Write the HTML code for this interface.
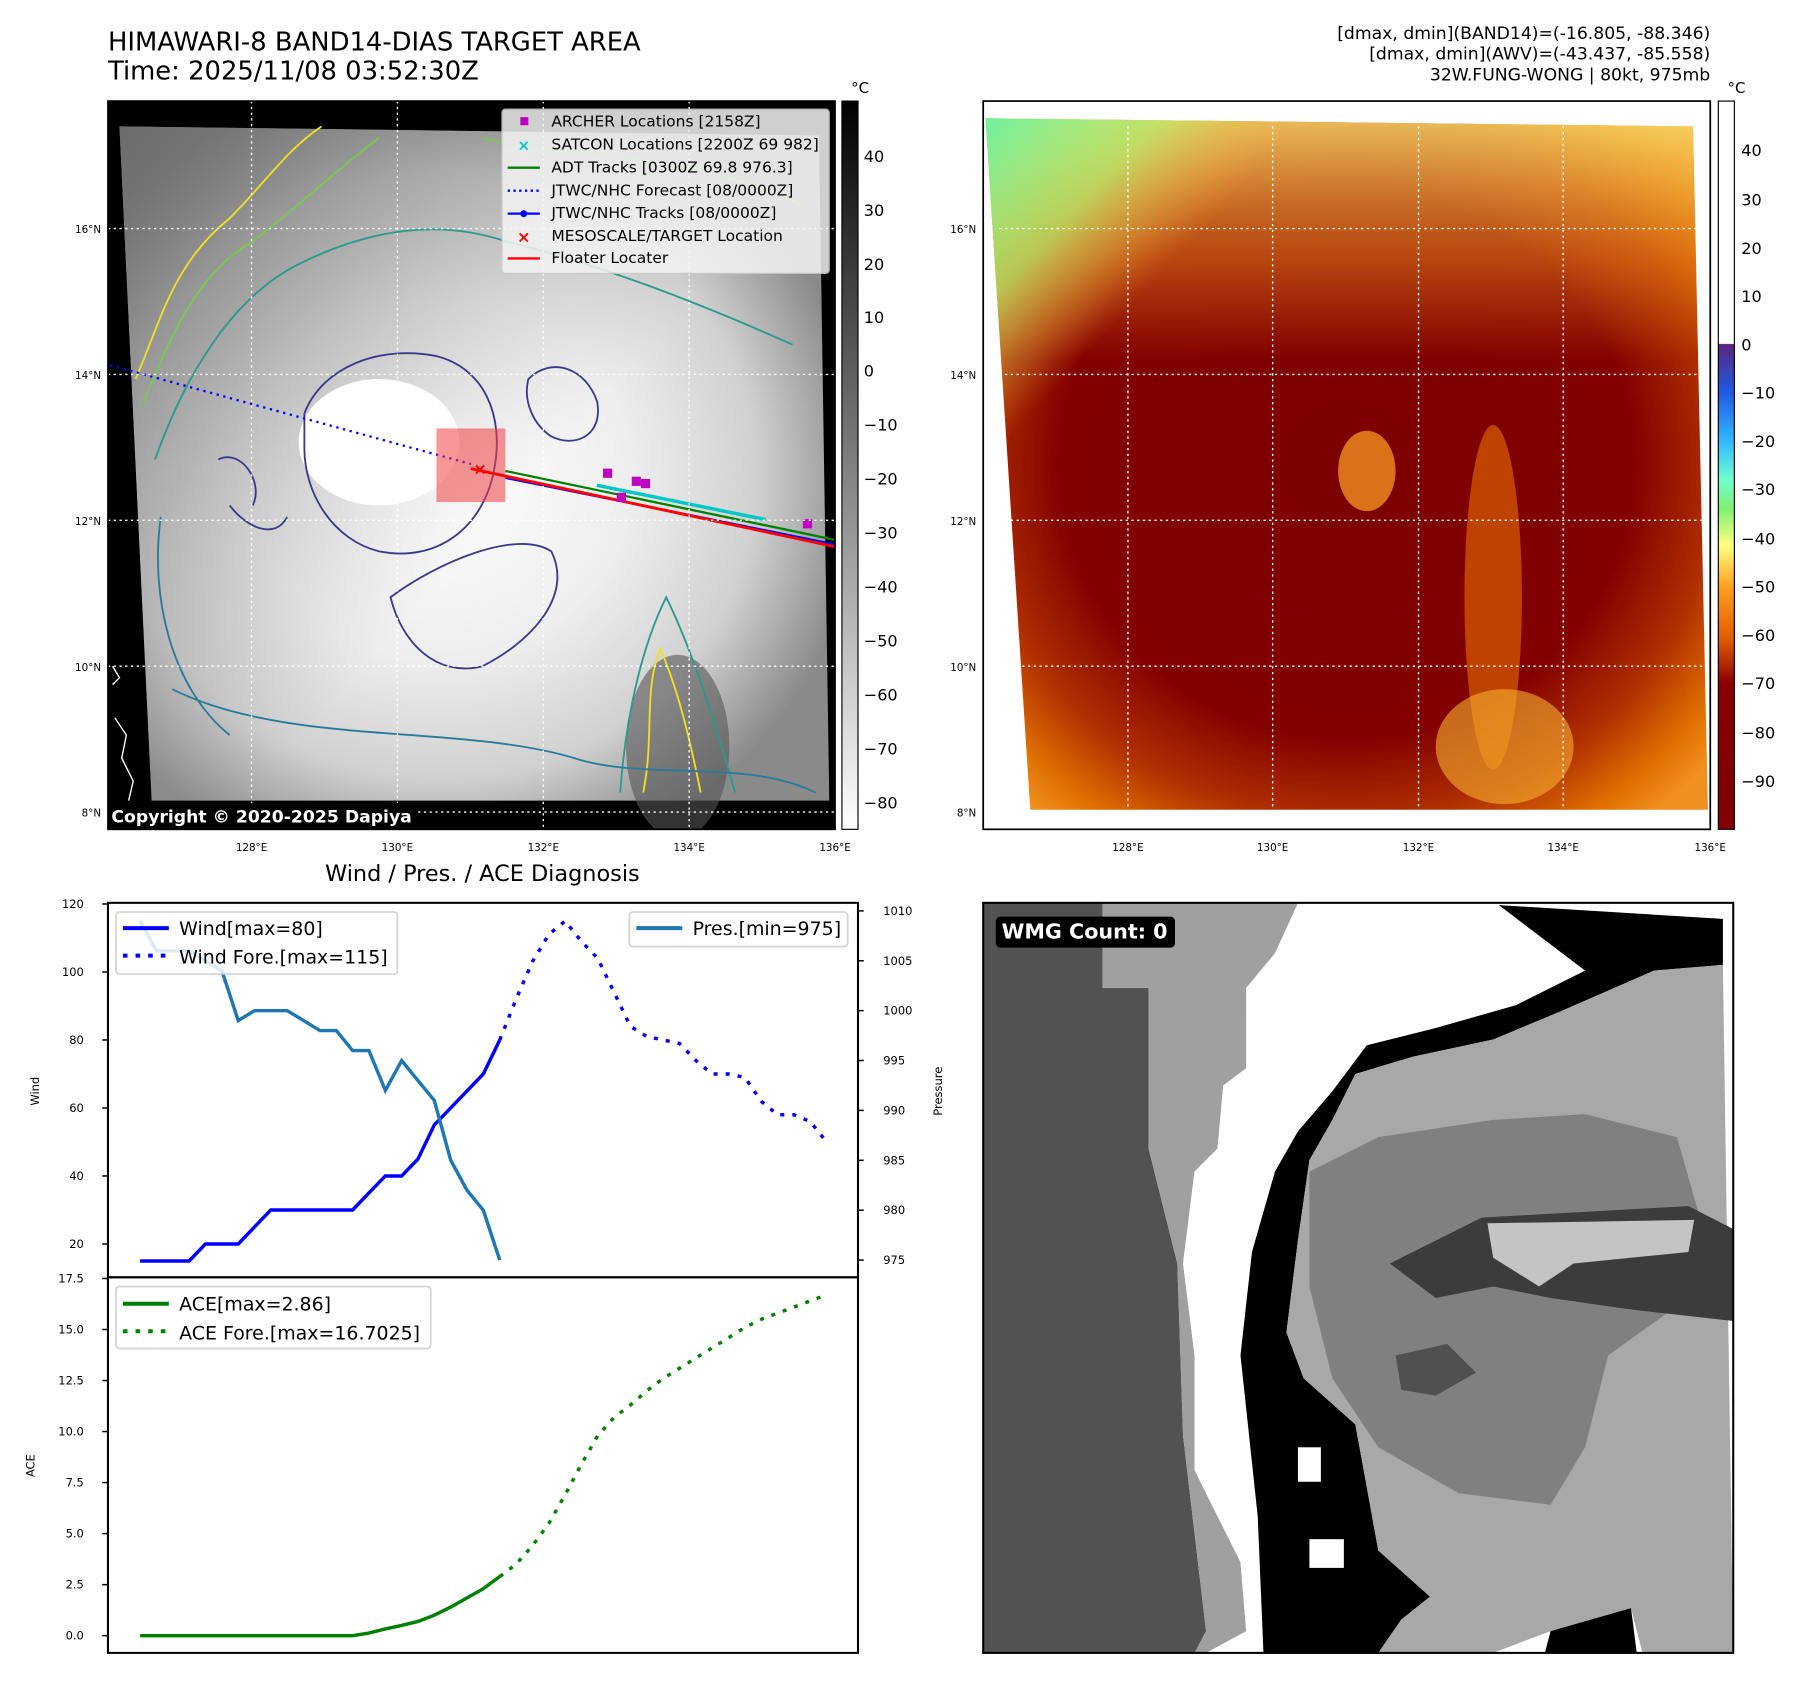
<!DOCTYPE html>
<html><head><meta charset="utf-8"><style>
html,body{margin:0;padding:0;background:#fff;}
svg{display:block;font-family:"DejaVu Sans","Liberation Sans",sans-serif;}
</style></head><body>
<svg id="fig" width="1801" height="1690" viewBox="0 0 1568 1471.3" preserveAspectRatio="none" xmlns="http://www.w3.org/2000/svg">
<defs>
<linearGradient id="cbGray" x1="0" y1="0" x2="0" y2="1"><stop offset="0" stop-color="#000"/><stop offset="1" stop-color="#fff"/></linearGradient>
<linearGradient id="cbColor" x1="0" y1="0" x2="0" y2="1">
<stop offset="0" stop-color="#fff"/><stop offset="0.333" stop-color="#fff"/>
<stop offset="0.334" stop-color="#5a2580"/><stop offset="0.40" stop-color="#1f5ae0"/>
<stop offset="0.467" stop-color="#30b8ff"/><stop offset="0.52" stop-color="#70ffd0"/>
<stop offset="0.56" stop-color="#80f070"/><stop offset="0.61" stop-color="#ffff80"/>
<stop offset="0.667" stop-color="#ffa020"/><stop offset="0.74" stop-color="#e05a00"/>
<stop offset="0.80" stop-color="#8a0000"/><stop offset="1" stop-color="#800000"/>
</linearGradient>
<radialGradient id="irWhite" cx="0.45" cy="0.52" r="0.6">
<stop offset="0" stop-color="#fff"/><stop offset="0.45" stop-color="#eee"/><stop offset="0.75" stop-color="#d0d0d0"/><stop offset="1" stop-color="#8a8a8a"/>
</radialGradient>
<linearGradient id="irTL" x1="0" y1="0" x2="0.6" y2="0.5"><stop offset="0" stop-color="#6a6a6a" stop-opacity="0.95"/><stop offset="1" stop-color="#999" stop-opacity="0"/></linearGradient>
<radialGradient id="awv" cx="0.5" cy="0.5" r="0.66">
<stop offset="0" stop-color="#7c0000"/><stop offset="0.6" stop-color="#820000"/><stop offset="0.78" stop-color="#b03000"/><stop offset="0.92" stop-color="#e07000"/><stop offset="1" stop-color="#f09020"/>
</radialGradient>
<linearGradient id="awvTL" x1="0" y1="0" x2="0.45" y2="0.4"><stop offset="0" stop-color="#70f0a0"/><stop offset="0.3" stop-color="#b0f070" stop-opacity="0.7"/><stop offset="0.55" stop-color="#ffb040" stop-opacity="0"/></linearGradient>
<linearGradient id="awvTop" x1="0" y1="0" x2="0" y2="1"><stop offset="0" stop-color="#f8e070" stop-opacity="0.8"/><stop offset="0.2" stop-color="#f09020" stop-opacity="0.5"/><stop offset="0.35" stop-color="#f09020" stop-opacity="0"/></linearGradient>
<clipPath id="clipA"><rect x="94" y="88" width="633" height="634"/></clipPath>
<clipPath id="clipD"><rect x="856" y="786" width="653" height="653"/></clipPath>
</defs>

<!-- Titles -->
<text x="94" y="44" font-size="22.5">HIMAWARI-8 BAND14-DIAS TARGET AREA</text>
<text x="94" y="69" font-size="22.5">Time: 2025/11/08 03:52:30Z</text>
<g font-size="15" text-anchor="end">
<text x="1489" y="34">[dmax, dmin](BAND14)=(-16.805, -88.346)</text>
<text x="1489" y="52">[dmax, dmin](AWV)=(-43.437, -85.558)</text>
<text x="1489" y="70">32W.FUNG-WONG | 80kt, 975mb</text>
</g>

<!-- Panel A: IR map -->
<g>
<g clip-path="url(#clipA)">
<rect x="94" y="88" width="633" height="634" fill="#000"/>
<polygon points="104,110 713,118 722,697 132,697" fill="url(#irWhite)"/>
<polygon points="104,110 713,118 722,697 132,697" fill="url(#irTL)"/>
<ellipse cx="590" cy="650" rx="45" ry="80" fill="#555" opacity="0.6"/>
<ellipse cx="330" cy="385" rx="70" ry="55" fill="#fff"/>
<g fill="none" stroke-width="1.6">
<path d="M118,330 C140,280 150,230 200,190 C230,160 250,130 280,110" stroke="#f0e020"/>
<path d="M560,690 C570,640 560,600 575,565 C590,600 600,640 610,690" stroke="#f0e020"/>
<path d="M125,350 C150,290 170,240 220,210 C260,180 290,150 330,120 M420,120 C500,140 600,130 700,180" stroke="#7ac850"/>
<path d="M135,400 C160,330 200,260 260,230 C320,200 380,190 440,210 C520,230 600,260 690,300 M540,690 C545,620 560,560 580,520 C600,560 620,620 640,690" stroke="#2a9a8a"/>
<path d="M140,450 C130,520 150,600 200,640 M150,600 C250,650 400,630 500,660 C560,680 650,660 710,690" stroke="#2a7a9a"/>
<path d="M265,360 C280,320 330,300 380,310 C420,320 440,360 430,410 C420,460 380,490 330,480 C290,470 265,430 265,390 Z" stroke="#3a3a8a"/>
<path d="M340,520 C380,490 450,460 480,480 C500,520 460,560 420,580 C380,590 350,560 340,520 Z" stroke="#3a3a8a"/>
<path d="M460,330 C480,310 510,320 520,350 C525,380 500,390 480,380 C465,370 455,350 460,330 Z" stroke="#3a3a8a"/>
<path d="M190,400 C210,390 230,420 220,440 M200,440 C215,460 240,470 250,450" stroke="#3a3a8a"/>
</g>
<line x1="96" y1="318" x2="410" y2="404" stroke="#0000ff" stroke-width="2" stroke-dasharray="2,4"/>
<rect x="380" y="373" width="60" height="64" fill="#f04040" opacity="0.55"/>
<line x1="440" y1="410" x2="727" y2="470" stroke="#008000" stroke-width="2"/>
<line x1="440" y1="416" x2="727" y2="474" stroke="#0000ff" stroke-width="2"/>
<g fill="#00c8c8"><rect x="520" y="421" width="150" height="3" transform="rotate(11.5 520 421)"/></g>
<line x1="410" y1="408" x2="727" y2="476" stroke="#ff0000" stroke-width="2.5"/>
<g fill="#c000c0">
<rect x="525" y="408" width="8" height="8"/><rect x="550" y="415" width="8" height="8"/><rect x="558" y="417" width="8" height="8"/><rect x="537" y="429" width="8" height="8"/><rect x="699" y="452" width="8" height="8"/>
</g>
<text x="418" y="413" font-size="14" fill="#ff0000" font-weight="bold" text-anchor="middle">×</text>
<g stroke="#fff" stroke-width="1.2" stroke-dasharray="2,3">
<line x1="219" y1="88" x2="219" y2="722"/><line x1="346" y1="88" x2="346" y2="722"/><line x1="473" y1="88" x2="473" y2="722"/><line x1="600" y1="88" x2="600" y2="722"/><line x1="94" y1="199" x2="727" y2="199"/><line x1="94" y1="326" x2="727" y2="326"/><line x1="94" y1="453" x2="727" y2="453"/><line x1="94" y1="580" x2="727" y2="580"/><line x1="94" y1="707" x2="727" y2="707"/>
</g>
<path d="M98,580 L104,590 L98,596 M100,625 L110,640 L106,660 L116,680 L112,697" stroke="#fff" fill="none" stroke-width="1.2"/>
</g>
<rect x="94" y="88" width="633" height="634" fill="none" stroke="#000" stroke-width="1.5"/>
<rect x="94" y="699" width="270" height="22" fill="#000"/>
<text x="97" y="716" font-size="15" font-weight="bold" fill="#fff">Copyright © 2020-2025 Dapiya</text>
<g font-size="13.5">
<rect x="437" y="95" width="285" height="143" fill="#f4f4f4" opacity="0.85" stroke="#ccc" rx="3"/>
<rect x="453" y="102" width="7" height="7" fill="#c000c0"/><text x="480" y="110">ARCHER Locations [2158Z]</text>
<text x="456" y="131" fill="#00c8c8" font-size="13" font-weight="bold" text-anchor="middle">×</text><text x="480" y="130">SATCON Locations [2200Z 69 982]</text>
<line x1="442" y1="146" x2="470" y2="146" stroke="#008000" stroke-width="2"/><text x="480" y="150">ADT Tracks [0300Z 69.8 976.3]</text>
<line x1="442" y1="166" x2="470" y2="166" stroke="#0000ff" stroke-width="2" stroke-dasharray="2,3"/><text x="480" y="170">JTWC/NHC Forecast [08/0000Z]</text>
<line x1="442" y1="186" x2="470" y2="186" stroke="#0000ff" stroke-width="2"/><circle cx="456" cy="186" r="3" fill="#0000ff"/><text x="480" y="190">JTWC/NHC Tracks [08/0000Z]</text>
<text x="456" y="211" fill="#ff0000" font-size="14" font-weight="bold" text-anchor="middle">×</text><text x="480" y="210">MESOSCALE/TARGET Location</text>
<line x1="442" y1="225" x2="470" y2="225" stroke="#ff0000" stroke-width="2"/><text x="480" y="229">Floater Locater</text>
</g>
<g font-size="9" text-anchor="end">
<text x="88" y="203">16°N</text><text x="88" y="330">14°N</text><text x="88" y="457">12°N</text><text x="88" y="584">10°N</text><text x="88" y="711">8°N</text>
</g>
<g font-size="9" text-anchor="middle">
<text x="219" y="741">128°E</text><text x="346" y="741">130°E</text><text x="473" y="741">132°E</text><text x="600" y="741">134°E</text><text x="727" y="741">136°E</text>
</g>
<rect x="733" y="88" width="14" height="634" fill="url(#cbGray)" stroke="#000" stroke-width="1"/>
<text x="741" y="81" font-size="13">°C</text>
<g font-size="14">
<text x="752" y="141">40</text><text x="752" y="188">30</text><text x="752" y="235">20</text><text x="752" y="281">10</text><text x="752" y="328">0</text><text x="752" y="375">−10</text><text x="752" y="422">−20</text><text x="752" y="469">−30</text><text x="752" y="516">−40</text><text x="752" y="563">−50</text><text x="752" y="610">−60</text><text x="752" y="657">−70</text><text x="752" y="704">−80</text>
</g>
</g>

<!-- Panel B: AWV map -->
<g>
<polygon points="858,103 1474,110 1487,705 897,705" fill="url(#awv)"/>
<polygon points="858,103 1474,110 1487,705 897,705" fill="url(#awvTop)"/>
<polygon points="858,103 1474,110 1487,705 897,705" fill="url(#awvTL)"/>
<ellipse cx="1190" cy="410" rx="25" ry="35" fill="#f09020" opacity="0.8"/>
<ellipse cx="1300" cy="520" rx="25" ry="150" fill="#e87000" opacity="0.6"/>
<ellipse cx="1310" cy="650" rx="60" ry="50" fill="#f8b030" opacity="0.6"/>
<g stroke="#fff" stroke-width="1.2" stroke-dasharray="2,3">
<line x1="982" y1="110" x2="982" y2="705"/><line x1="1108" y1="110" x2="1108" y2="705"/><line x1="1235" y1="110" x2="1235" y2="705"/><line x1="1361" y1="110" x2="1361" y2="705"/><line x1="870" y1="199" x2="1480" y2="199"/><line x1="875" y1="326" x2="1482" y2="326"/><line x1="880" y1="453" x2="1484" y2="453"/><line x1="885" y1="580" x2="1486" y2="580"/>
</g>
<rect x="856" y="88" width="633" height="634" fill="none" stroke="#000" stroke-width="1.5"/>
<g font-size="9" text-anchor="end">
<text x="850" y="203">16°N</text><text x="850" y="330">14°N</text><text x="850" y="457">12°N</text><text x="850" y="584">10°N</text><text x="850" y="711">8°N</text>
</g>
<g font-size="9" text-anchor="middle">
<text x="982" y="741">128°E</text><text x="1108" y="741">130°E</text><text x="1235" y="741">132°E</text><text x="1361" y="741">134°E</text><text x="1489" y="741">136°E</text>
</g>
<rect x="1496" y="88" width="14" height="634" fill="url(#cbColor)" stroke="#000" stroke-width="1"/>
<text x="1504" y="81" font-size="13">°C</text>
<g font-size="14">
<text x="1516" y="136">40</text><text x="1516" y="179">30</text><text x="1516" y="221">20</text><text x="1516" y="263">10</text><text x="1516" y="305">0</text><text x="1516" y="347">−10</text><text x="1516" y="389">−20</text><text x="1516" y="431">−30</text><text x="1516" y="474">−40</text><text x="1516" y="516">−50</text><text x="1516" y="558">−60</text><text x="1516" y="600">−70</text><text x="1516" y="643">−80</text><text x="1516" y="685">−90</text>
</g>
</g>

<!-- Panel C: chart -->
<g id="chart">
<text x="420" y="767" font-size="19.5" text-anchor="middle">Wind / Pres. / ACE Diagnosis</text>
<rect x="94" y="786" width="653" height="326" fill="none" stroke="#000" stroke-width="1.8"/>
<rect x="94" y="1112" width="653" height="327" fill="none" stroke="#000" stroke-width="1.8"/>
<text transform="translate(34,950) rotate(-90)" font-size="10" text-anchor="middle">Wind</text>
<text transform="translate(820,950) rotate(-90)" font-size="10" text-anchor="middle">Pressure</text>
<text transform="translate(30,1276) rotate(-90)" font-size="10" text-anchor="middle">ACE</text>
<g id="ticks"></g>
<g id="series"></g>
<g font-size="16.5">
<rect x="101" y="794" width="245" height="54" fill="#fff" opacity="0.85" stroke="#ccc" stroke-width="1.5" rx="3"/>
<line x1="107" y1="808" x2="147" y2="808" stroke="#0000ff" stroke-width="3.5"/><text x="156" y="814">Wind[max=80]</text>
<line x1="107" y1="832" x2="147" y2="832" stroke="#0000ff" stroke-width="3.5" stroke-dasharray="4,7"/><text x="156" y="839">Wind Fore.[max=115]</text>
</g>
<g font-size="16.5">
<rect x="548" y="794" width="190" height="30" fill="#fff" opacity="0.85" stroke="#ccc" stroke-width="1.5" rx="3"/>
<line x1="554" y1="808" x2="594" y2="808" stroke="#1f77b4" stroke-width="3.5"/><text x="603" y="814">Pres.[min=975]</text>
</g>
<g font-size="16.5">
<rect x="101" y="1120" width="274" height="54" fill="#fff" opacity="0.85" stroke="#ccc" stroke-width="1.5" rx="3"/>
<line x1="107" y1="1135" x2="147" y2="1135" stroke="#008000" stroke-width="3.5"/><text x="156" y="1141">ACE[max=2.86]</text>
<line x1="107" y1="1159" x2="147" y2="1159" stroke="#008000" stroke-width="3.5" stroke-dasharray="4,7"/><text x="156" y="1166">ACE Fore.[max=16.7025]</text>
</g>
</g>

<!-- Panel D: WMG -->
<g>
<g clip-path="url(#clipD)">
<rect x="856" y="786" width="653" height="653" fill="#fff"/>
<polygon points="856,786 960,786 960,860 1000,860 1000,1000 1025,1100 1030,1250 1050,1420 1040,1439 856,1439" fill="#525252"/>
<polygon points="960,786 1130,786 1130,815 1110,830 1085,860 1085,930 1065,945 1060,1000 1040,1020 1030,1100 1040,1180 1040,1280 1050,1300 1080,1360 1085,1420 1050,1439 1040,1439 1050,1420 1030,1250 1025,1100 1000,1000 1000,860 960,860" fill="#a0a0a0"/>
<polygon points="1130,786 1305,786 1305,830 1340,830 1300,860 1260,890 1190,920 1150,970 1110,1020 1090,1090 1085,1180 1090,1300 1100,1360 1130,1439 1085,1420 1080,1360 1050,1300 1040,1180 1030,1100 1040,1020 1060,1000 1065,945 1085,930 1085,860 1110,830" fill="#fff"/>
<polygon points="1305,788 1500,800 1500,840 1440,845 1360,880 1300,905 1230,920 1180,935 1160,975 1140,1010 1130,1080 1120,1160 1135,1200 1180,1240 1200,1350 1245,1390 1220,1410 1200,1439 1100,1439 1095,1320 1080,1180 1090,1090 1110,1020 1130,985 1160,950 1190,910 1250,895 1320,875 1380,845" fill="#000"/>
<polygon points="1440,845 1500,840 1509,1439 1430,1439 1420,1400 1350,1420 1300,1439 1200,1439 1220,1410 1245,1390 1200,1350 1180,1240 1135,1200 1120,1160 1130,1080 1140,1010 1160,975 1180,935 1230,920 1300,905 1360,880" fill="#a8a8a8"/>
<polygon points="1140,1020 1200,990 1300,975 1380,970 1460,990 1480,1060 1470,1130 1400,1180 1380,1260 1350,1310 1270,1300 1200,1260 1160,1200 1140,1120" fill="#808080"/>
<polygon points="1210,1100 1290,1060 1470,1050 1509,1070 1509,1150 1420,1140 1350,1130 1300,1120 1250,1130" fill="#3c3c3c"/>
<polygon points="1295,1065 1475,1062 1470,1090 1370,1100 1340,1120 1300,1095" fill="#c4c4c4"/>
<polygon points="1215,1180 1260,1170 1285,1195 1250,1215 1220,1210" fill="#505050"/>
<rect x="1130" y="1260" width="20" height="30" fill="#fff"/><rect x="1140" y="1340" width="30" height="25" fill="#fff"/>
<polygon points="1350,1420 1420,1400 1425,1439 1345,1439" fill="#000"/>
</g>
<rect x="856" y="786" width="653" height="653" fill="none" stroke="#000" stroke-width="1.8"/>
<rect x="867" y="798" width="156" height="27" rx="4" fill="#000"/>
<text x="872" y="817" font-size="18" font-weight="bold" fill="#fff">WMG Count: 0</text>
</g>

<script>
const wind = [15,15,15,15,20,20,20,25,30,30,30,30,30,30,35,40,40,45,55,60,65,70,80];
const windFore = [80,92,103,111,115,109,104,94,84,81,80,79,74,70,70,69,62,58,58,56,50];
const pres = [1009,1006,1006,1006,1005,1004,999,1000,1000,1000,999,998,998,996,996,992,995,993,991,985,982,980,975];
const ace = [0,0,0,0,0,0,0,0,0,0,0,0,0,0,0.13,0.33,0.5,0.7,1.0,1.4,1.85,2.3,2.9];
const aceFore = [2.9,3.5,4.4,5.5,6.9,8.4,9.8,10.7,11.3,12.0,12.6,13.1,13.6,14.1,14.6,15.1,15.5,15.8,16.1,16.4,16.7];
const windTicks = [20,40,60,80,100,120];
const presTicks = [975,980,985,990,995,1000,1005,1010];
const aceTicks = ["0.0","2.5","5.0","7.5","10.0","12.5","15.0","17.5"];

const NS = "http://www.w3.org/2000/svg";
function xS(i){ return 122 + 14.23*i; }
function yWind(v){ return 787 + (120 - v)*2.96; }
function yPres(v){ return 1097 - (v - 975)*8.686; }
function yAce(v){ return 1424 - v*17.77; }
const obsN = wind.length - 1;
function pts(arr, off, yf){ return arr.map((v,i)=>xS(i+off).toFixed(1)+","+yf(v).toFixed(1)).join(" "); }
const series = document.getElementById("series");
function addLine(p, color, dash, name){
  const l = document.createElementNS(NS,"polyline");
  l.setAttribute("points", p);
  l.setAttribute("fill","none");
  l.setAttribute("stroke", color);
  l.setAttribute("stroke-width","3");
  if(dash) l.setAttribute("stroke-dasharray", dash);
  
  
  series.appendChild(l);
}
addLine(pts(wind,0,yWind), "#0000ff", null, "wind-line");
addLine(pts(windFore,obsN,yWind), "#0000ff", "3.5,7", "wind-forecast-line");
addLine(pts(pres,0,yPres), "#1f77b4", null, "pressure-line");
addLine(pts(ace,0,yAce), "#008000", null, "ace-line");
addLine(pts(aceFore,obsN,yAce), "#008000", "3.5,7", "ace-forecast-line");

const ticks = document.getElementById("ticks");
function addTick(x1,x2,y,label,tx,anchor,name){
  const l = document.createElementNS(NS,"line");
  l.setAttribute("x1",x1); l.setAttribute("x2",x2); l.setAttribute("y1",y); l.setAttribute("y2",y);
  l.setAttribute("stroke","#000"); l.setAttribute("stroke-width","1.3");
  
  
  ticks.appendChild(l);
  const t = document.createElementNS(NS,"text");
  t.setAttribute("x",tx); t.setAttribute("y",y+3.5);
  t.setAttribute("font-size","10"); t.setAttribute("text-anchor",anchor);
  t.textContent = label;
  
  
  ticks.appendChild(t);
}
windTicks.forEach(v=>addTick(89,94,yWind(v),String(v),73,"end","wind-tick"));
presTicks.forEach(v=>addTick(747,752,yPres(v),String(v),769,"start","pressure-tick"));
aceTicks.forEach(v=>addTick(89,94,yAce(parseFloat(v)),v,73,"end","ace-tick"));
</script>
</svg>
</body></html>
